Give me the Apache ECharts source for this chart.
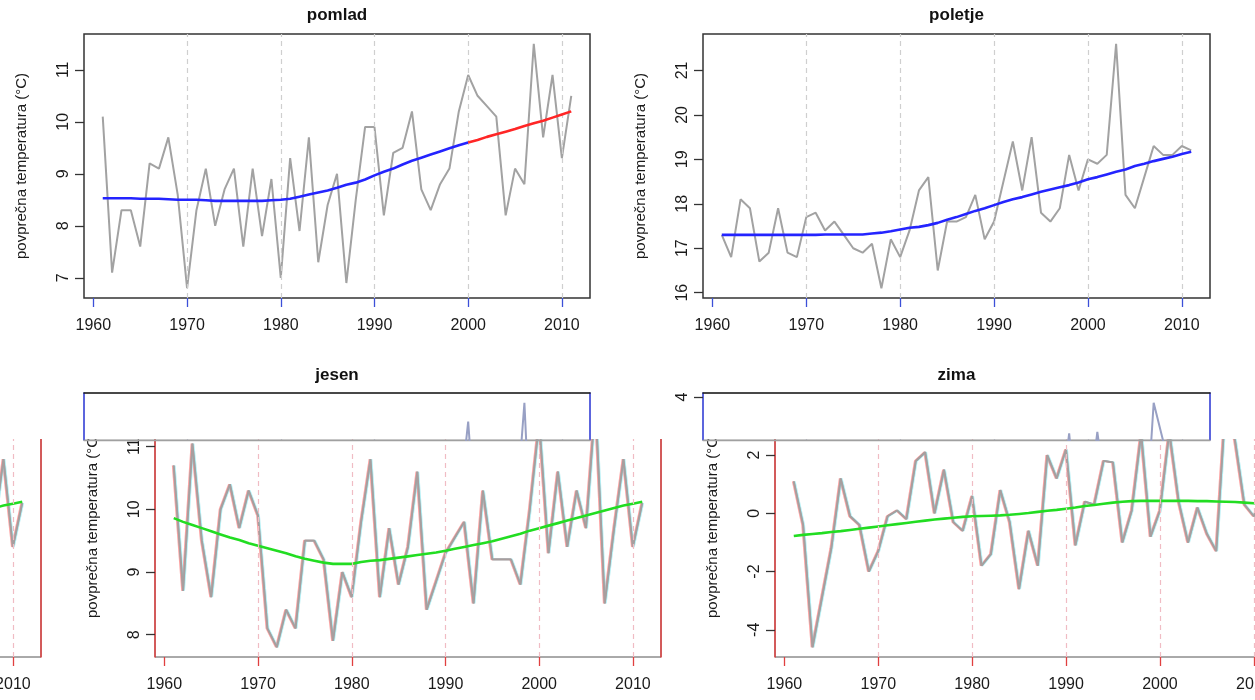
<!DOCTYPE html>
<html>
<head>
<meta charset="utf-8">
<script src="https://cdn.jsdelivr.net/npm/echarts@6/dist/echarts.min.js"></script>
<style>html,body{margin:0;padding:0;background:#fff;}#c{width:1255px;height:700px;}</style>
</head>
<body>
<div id="c"></div>
<script>
// ---------------- data ----------------
const years = [1961,1962,1963,1964,1965,1966,1967,1968,1969,1970,
  1971,1972,1973,1974,1975,1976,1977,1978,1979,1980,
  1981,1982,1983,1984,1985,1986,1987,1988,1989,1990,
  1991,1992,1993,1994,1995,1996,1997,1998,1999,2000,
  2001,2002,2003,2004,2005,2006,2007,2008,2009,2010,2011];
const xTicks = [1960,1970,1980,1990,2000,2010];
const gridYears = [1970,1980,1990,2000,2010];
const redFromYear = 2000;

const pomlad = [10.1,7.1,8.3,8.3,7.6,9.2,9.1,9.7,8.6,6.8,
  8.3,9.1,8.0,8.7,9.1,7.6,9.1,7.8,8.9,7.0,
  9.3,7.9,9.7,7.3,8.4,9.0,6.9,8.5,9.9,9.9,
  8.2,9.4,9.5,10.2,8.7,8.3,8.8,9.1,10.2,10.9,
  10.5,10.3,10.1,8.2,9.1,8.8,11.5,9.7,10.9,9.3,10.5];
const pomladTrend = [8.53,8.53,8.53,8.53,8.52,8.52,8.52,8.51,8.50,8.50,
  8.50,8.49,8.48,8.48,8.48,8.48,8.48,8.48,8.49,8.50,
  8.52,8.56,8.60,8.64,8.68,8.73,8.79,8.83,8.89,8.97,
  9.04,9.10,9.18,9.25,9.31,9.37,9.43,9.49,9.55,9.60,
  9.65,9.71,9.76,9.81,9.86,9.92,9.97,10.02,10.08,10.14,10.20];

const poletje = [17.3,16.8,18.1,17.9,16.7,16.9,17.9,16.9,16.8,17.7,
  17.8,17.4,17.6,17.3,17.0,16.9,17.1,16.1,17.2,16.8,
  17.4,18.3,18.6,16.5,17.6,17.6,17.7,18.2,17.2,17.6,
  18.5,19.4,18.3,19.5,17.8,17.6,17.9,19.1,18.3,19.0,
  18.9,19.1,21.6,18.2,17.9,18.6,19.3,19.1,19.1,19.3,19.2];
const poletjeTrend = [17.30,17.30,17.30,17.30,17.30,17.30,17.30,17.30,17.30,17.30,
  17.30,17.31,17.31,17.31,17.31,17.31,17.33,17.35,17.38,17.42,
  17.46,17.48,17.52,17.57,17.64,17.70,17.77,17.84,17.90,17.97,
  18.04,18.10,18.15,18.21,18.27,18.32,18.37,18.42,18.48,18.55,
  18.60,18.66,18.72,18.77,18.85,18.90,18.96,19.01,19.06,19.12,19.17];

const jesen = [10.7,8.7,11.05,9.5,8.6,10.0,10.4,9.7,10.3,9.9,
  8.1,7.8,8.4,8.1,9.5,9.5,9.2,7.9,9.0,8.6,
  9.8,10.8,8.6,9.7,8.8,9.4,10.6,8.4,8.85,9.3,
  9.55,9.8,8.5,10.3,9.2,9.2,9.2,8.8,10.0,11.4,
  9.3,10.6,9.4,10.3,9.7,11.7,8.5,9.7,10.8,9.4,10.1];
const jesenTrend = [9.86,9.80,9.75,9.70,9.65,9.60,9.55,9.51,9.46,9.42,
  9.38,9.34,9.30,9.25,9.21,9.18,9.15,9.13,9.13,9.13,
  9.16,9.18,9.19,9.21,9.23,9.25,9.27,9.29,9.31,9.34,
  9.37,9.40,9.43,9.46,9.49,9.53,9.57,9.61,9.66,9.70,
  9.74,9.78,9.82,9.86,9.90,9.94,9.98,10.02,10.06,10.09,10.12];

const zima = [1.1,-0.4,-4.6,-2.9,-1.2,1.2,-0.1,-0.4,-2.0,-1.3,
  -0.1,0.1,-0.2,1.8,2.1,0.0,1.5,-0.3,-0.6,0.6,
  -1.8,-1.4,0.8,-0.3,-2.6,-0.6,-1.8,2.0,1.2,2.2,
  -1.1,0.4,0.3,1.8,1.75,-1.0,0.1,2.75,-0.8,0.1,
  2.8,0.4,-1.0,0.2,-0.7,-1.3,3.8,2.5,0.3,-0.1,0.5];
const zimaTrend = [-0.78,-0.74,-0.71,-0.68,-0.64,-0.61,-0.57,-0.53,-0.49,-0.45,
  -0.41,-0.37,-0.33,-0.29,-0.25,-0.21,-0.18,-0.15,-0.12,-0.10,
  -0.09,-0.08,-0.07,-0.05,-0.02,0.01,0.05,0.09,0.12,0.16,
  0.20,0.25,0.29,0.33,0.37,0.40,0.42,0.43,0.43,0.43,
  0.43,0.43,0.43,0.42,0.42,0.41,0.40,0.39,0.37,0.35,0.33];

const pomladTicks = [7,8,9,10,11];
const poletjeTicks = [16,17,18,19,20,21];
const jesenTicks = [8,9,10,11];
const zimaTicks = [-4,-2,0,2,4];

const titles = ['pomlad','poletje','jesen','zima'];
const yName = 'povprečna temperatura (°C)';

// ---------------- helpers ----------------
const FONT = '"Liberation Sans", Arial, Helvetica, sans-serif';
const PLOT_H = 264;
const GHOST_H = 47;

function ext(vals){
  const mn = Math.min.apply(null, vals), mx = Math.max.apply(null, vals), r = mx - mn;
  return [mn - 0.04*r, mx + 0.04*r];
}
function pairs(vals, keep){
  const out = [];
  years.forEach((y,i)=>{ if(!keep || keep(y)) out.push([y, vals[i]]); });
  return out;
}
const plain = v => String(v);

const grids = [], xAxes = [], yAxes = [], series = [];

function panel(o){
  const gi = grids.length;
  grids.push({left:o.left, top:o.top, width:o.width, height:o.height, show:true,
    borderColor:o.border, borderWidth:o.borderWidth || 1, backgroundColor:'rgba(0,0,0,0)',
    containLabel:false, outerBoundsMode:'none', z:o.z});
  const xi = xAxes.length;
  xAxes.push({type:'value', gridIndex:gi, min:1959, max:2013, position:'bottom', z:o.z+1,
    axisLine:{show:!!o.bottomLine, onZero:false, lineStyle:{color:o.bottomLine || '#000', width:1.4}},
    splitLine:{show:false},
    axisTick:{show:!!o.xLabels, length:9, customValues:xTicks, lineStyle:{color:o.xTick, width:1.3}},
    axisLabel:{show:!!o.xLabels, customValues:xTicks, formatter:plain, margin:20, fontSize:16, color:'#1a1a1a', fontFamily:FONT}});
  if(o.topLine){
    xAxes.push({type:'value', gridIndex:gi, min:1959, max:2013, position:'top', z:o.z+1,
      axisLine:{show:true, onZero:false, lineStyle:{color:o.topLine, width:1.6}},
      axisTick:{show:false}, axisLabel:{show:false}, splitLine:{show:false}});
  }
  const yi = yAxes.length;
  const yt = o.yTicks.filter(v => v >= o.yMin && v <= o.yMax);
  yAxes.push({type:'value', gridIndex:gi, min:o.yMin, max:o.yMax, position:'left', z:o.z+1,
    axisLine:{show:!!o.sideLine, onZero:false, lineStyle:{color:o.sideLine || '#000', width:1.5}},
    splitLine:{show:false},
    axisTick:{show:yt.length>0, length:9, customValues:yt, lineStyle:{color:'#333', width:1.3}},
    axisLabel:{show:yt.length>0, customValues:yt, formatter:plain, rotate:90, margin:12, fontSize:16, color:'#1a1a1a', fontFamily:FONT},
    name:o.showName ? yName : '', nameLocation:'middle', nameGap:55,
    nameTextStyle:{fontSize:15, color:'#1a1a1a', fontFamily:FONT}});
  if(o.sideLine){
    yAxes.push({type:'value', gridIndex:gi, min:o.yMin, max:o.yMax, position:'right', z:o.z+1,
      axisLine:{show:true, onZero:false, lineStyle:{color:o.sideLine, width:1.5}},
      axisTick:{show:false}, axisLabel:{show:false}, splitLine:{show:false}});
  }
  const mk = {silent:true, symbol:['none','none'], label:{show:false},
    lineStyle:{type:[5,4], color:o.dash, width:1.2}, data:gridYears.map(v => ({xAxis:v}))};
  const base = {type:'line', xAxisIndex:xi, yAxisIndex:yi, showSymbol:false, symbol:'none', silent:true, z:o.z+2};
  if(o.fringe){
    series.push(Object.assign({}, base, {data:pairs(o.vals), markLine:mk,
      lineStyle:{color:o.dataColor, width:1.8, shadowColor:'rgba(250,90,90,0.55)', shadowOffsetX:-1, shadowBlur:0}}));
    series.push(Object.assign({}, base, {data:pairs(o.vals),
      lineStyle:{color:o.dataColor, width:1.8, shadowColor:'rgba(90,220,230,0.45)', shadowOffsetX:1, shadowBlur:0}}));
  } else {
    series.push(Object.assign({}, base, {data:pairs(o.vals), markLine:mk,
      lineStyle:{color:o.dataColor, width:2}}));
  }
  (o.trends || []).forEach(t => {
    series.push(Object.assign({}, base, {data:pairs(t.vals, t.keep), z:o.z+3,
      lineStyle:{color:t.color, width:2.6}}));
  });
}

const ePom = ext(pomlad), ePol = ext(poletje), eJes = ext(jesen), eZim = ext(zima);
function ghostMin(e){ return e[1] - (e[1]-e[0]) * GHOST_H / PLOT_H; }

// top row
panel({left:84, top:34, width:506, height:PLOT_H, yMin:ePom[0], yMax:ePom[1], yTicks:pomladTicks,
  border:'#333', borderWidth:1.5, xTick:'#3c50d8', xLabels:true, showName:true, z:2,
  dash:'#cfcfcf', dataColor:'#a2a2a2', vals:pomlad,
  trends:[{vals:pomladTrend, color:'#2424ff', keep:y => y <= redFromYear},
          {vals:pomladTrend, color:'#ff2626', keep:y => y >= redFromYear}]});
panel({left:703, top:34, width:507, height:PLOT_H, yMin:ePol[0], yMax:ePol[1], yTicks:poletjeTicks,
  border:'#333', borderWidth:1.5, xTick:'#3c50d8', xLabels:true, showName:true, z:2,
  dash:'#cfcfcf', dataColor:'#a2a2a2', vals:poletje,
  trends:[{vals:poletjeTrend, color:'#2424ff'}]});

// bottom row, shifted copies (lower part)
const shiftCommon = {top:393, height:PLOT_H, border:'#555', sideLine:'#e04040', xTick:'#e04040',
  xLabels:true, showName:true, z:1, dash:'#f0bcc4', dataColor:'#a89e9e', fringe:true};
panel(Object.assign({}, shiftCommon, {left:155, width:506, yMin:eJes[0], yMax:eJes[1], yTicks:jesenTicks,
  vals:jesen, trends:[{vals:jesenTrend, color:'#22dd22'}]}));
panel(Object.assign({}, shiftCommon, {left:775, width:507, yMin:eZim[0], yMax:eZim[1], yTicks:zimaTicks,
  vals:zima, trends:[{vals:zimaTrend, color:'#22dd22'}]}));
panel(Object.assign({}, shiftCommon, {left:-465, width:506, yMin:eJes[0], yMax:eJes[1], yTicks:jesenTicks,
  vals:jesen, trends:[{vals:jesenTrend, color:'#22dd22'}]}));

// bottom row, original (upper strip only)
const ghostCommon = {top:393, height:GHOST_H, border:'#a8a8a8', topLine:'#1a1a1a', sideLine:'#3440e0',
  bottomLine:'#a0a0a0', xTick:'#333', xLabels:false, showName:false, z:20, dash:'#c6c8dc', dataColor:'#98a0c4'};
panel(Object.assign({}, ghostCommon, {left:84, width:506, yMin:ghostMin(eJes), yMax:eJes[1], yTicks:jesenTicks, vals:jesen}));
panel(Object.assign({}, ghostCommon, {left:703, width:507, yMin:ghostMin(eZim), yMax:eZim[1], yTicks:zimaTicks, vals:zima}));

const titleCenters = [337, 956.5, 337, 956.5];
const titleTops = [7, 7, 367, 367];
const title = titles.map((t,i) => ({text:t, left:titleCenters[i], top:titleTops[i], textAlign:'center',
  padding:0, z:30, textStyle:{fontSize:17, fontWeight:'bold', color:'#111', fontFamily:FONT}}));

const chart = echarts.init(document.getElementById('c'), null, {renderer:'canvas'});
chart.setOption({
  animation:false,
  backgroundColor:'#ffffff',
  title:title,
  grid:grids, xAxis:xAxes, yAxis:yAxes, series:series,
  graphic:{elements:[{type:'rect', z:10, silent:true, shape:{x:0, y:345, width:1255, height:94},
    style:{fill:'#ffffff'}}]}
});
</script>
</body>
</html>
